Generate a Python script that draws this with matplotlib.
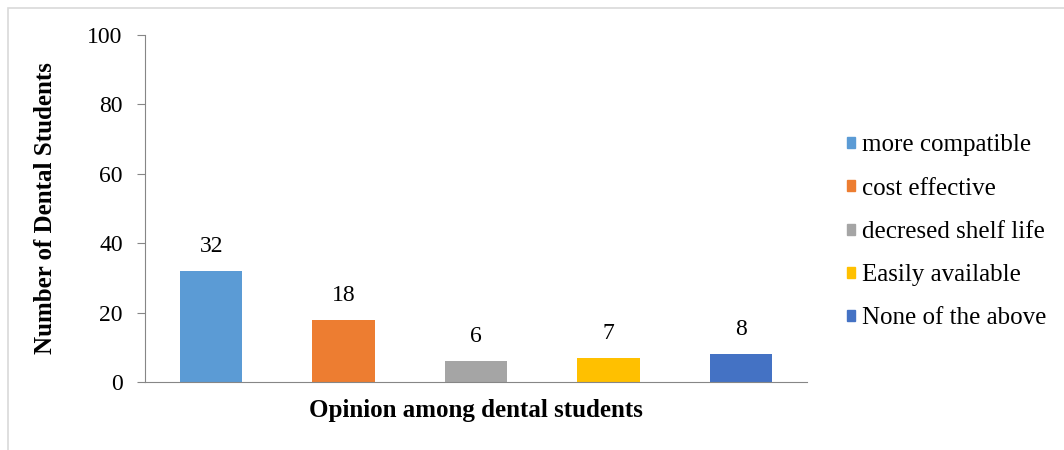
import matplotlib.pyplot as plt
from matplotlib.patches import Rectangle

categories = ["more compatible", "cost effective", "decresed shelf life",
              "Easily available", "None of the above"]
counts = [32, 18, 6, 7, 8]
colors = ["#5B9BD5", "#ED7D31", "#A5A5A5", "#FFC000", "#4472C4"]
yticks = [0, 20, 40, 60, 80, 100]

plt.rcParams['font.family'] = ['Liberation Serif', 'DejaVu Serif']

fig = plt.figure(figsize=(10.64, 4.5), dpi=100)
ax = fig.add_axes([145 / 1064, 1 - 382 / 450, (807 - 145) / 1064, (382 - 35) / 450])

# outer frame of the chart area
fig.patches.append(Rectangle((8 / 1064, -0.1), 1.2, 1 - 8 / 450 + 0.1,
                             transform=fig.transFigure, fill=False,
                             edgecolor="#D9D9D9", linewidth=1.2))

x = list(range(len(categories)))
bars = ax.bar(x, counts, width=0.47, color=colors, label=categories)
ax.bar_label(bars, labels=[str(c) for c in counts], padding=10, fontsize=17)

ax.set_xlim(-0.5, len(categories) - 0.5)
ax.set_ylim(0, 100)
ax.set_yticks(yticks)
ax.set_xticks([])
ax.tick_params(axis='y', labelsize=17, length=6, color="#868686", pad=10)
for s in ["top", "right"]:
    ax.spines[s].set_visible(False)
for s in ["left", "bottom"]:
    ax.spines[s].set_color("#868686")

ax.set_ylabel("Number of Dental Students", fontsize=18, fontweight='bold')
ax.yaxis.set_label_coords(-100 / 662, 0.5)
ax.set_xlabel("Opinion among dental students", fontsize=18, fontweight='bold')
ax.xaxis.set_label_coords(0.5, -28 / 347)
ax.xaxis.label.set_va('center')
ax.yaxis.label.set_va('center')

handles = [Rectangle((0, 0), 1, 1, color=c) for c in colors]
fig.legend(handles, categories, loc='center left', bbox_to_anchor=(847 / 1064, 1 - 232 / 450),
           frameon=False, fontsize=18, handlelength=0.3, handleheight=0.3,
           handletextpad=0.3, labelspacing=0.85, borderpad=0, borderaxespad=0)

fig.savefig("out.png", dpi=100)
